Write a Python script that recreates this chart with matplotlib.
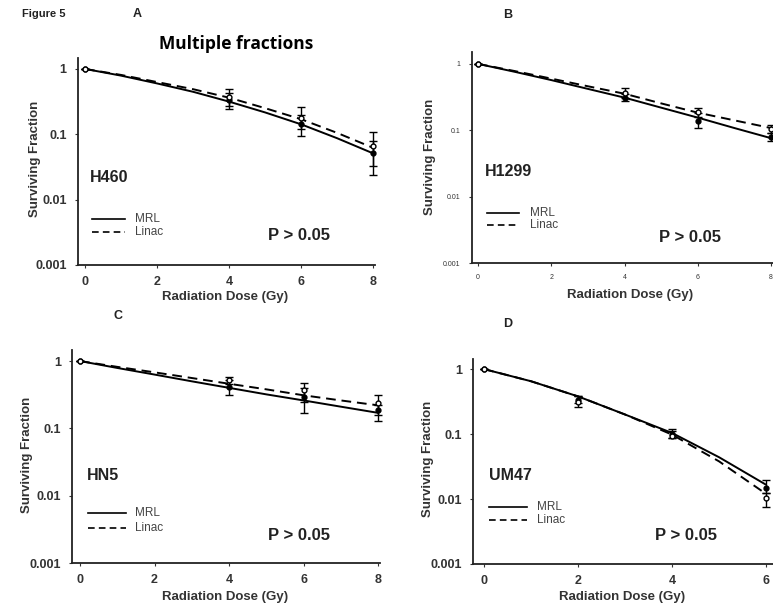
import matplotlib
matplotlib.use('Agg')
import matplotlib.pyplot as plt
import numpy as np

W, H = 773, 610

# measured points (dose in Gy, surviving fraction, lower / upper error bound)
doses_8 = [0, 4, 6, 8]
doses_6 = [0, 2, 4, 6]

h460_mrl = [1.0, 0.33, 0.145, 0.052]
h460_mrl_lo = [1.0, 0.24, 0.095, 0.024]
h460_mrl_hi = [1.0, 0.43, 0.20, 0.08]
h460_linac = [1.0, 0.37, 0.18, 0.066]
h460_linac_lo = [1.0, 0.27, 0.12, 0.033]
h460_linac_hi = [1.0, 0.50, 0.26, 0.11]

h1299_mrl = [1.0, 0.31, 0.14, 0.078]
h1299_mrl_lo = [1.0, 0.28, 0.11, 0.068]
h1299_mrl_hi = [1.0, 0.35, 0.18, 0.09]
h1299_linac = [1.0, 0.36, 0.19, 0.105]
h1299_linac_lo = [1.0, 0.31, 0.16, 0.09]
h1299_linac_hi = [1.0, 0.44, 0.22, 0.12]

hn5_mrl = [1.0, 0.41, 0.29, 0.185]
hn5_mrl_lo = [1.0, 0.31, 0.17, 0.13]
hn5_mrl_hi = [1.0, 0.52, 0.40, 0.22]
hn5_linac = [1.0, 0.52, 0.37, 0.236]
hn5_linac_lo = [1.0, 0.46, 0.245, 0.156]
hn5_linac_hi = [1.0, 0.58, 0.47, 0.31]

um47_mrl = [1.0, 0.34, 0.10, 0.015]
um47_mrl_lo = [1.0, 0.30, 0.086, 0.0123]
um47_mrl_hi = [1.0, 0.38, 0.12, 0.0197]
um47_linac = [1.0, 0.31, 0.095, 0.0104]
um47_linac_lo = [1.0, 0.26, 0.086, 0.0075]
um47_linac_hi = [1.0, 0.38, 0.11, 0.0123]

# fitted curves at each Gy
fit_x8 = [0, 1, 2, 3, 4, 5, 6, 7, 8]
fit_x6 = [0, 1, 2, 3, 4, 5, 6]
h460_mrl_fit = [1, 0.79, 0.60, 0.447, 0.316, 0.216, 0.142, 0.087, 0.051]
h460_linac_fit = [1, 0.81, 0.63, 0.49, 0.363, 0.251, 0.17, 0.105, 0.062]
h1299_mrl_fit = [1, 0.76, 0.57, 0.42, 0.31, 0.219, 0.155, 0.108, 0.076]
h1299_linac_fit = [1, 0.78, 0.60, 0.46, 0.355, 0.254, 0.184, 0.141, 0.108]
hn5_mrl_fit = [1, 0.79, 0.63, 0.50, 0.40, 0.32, 0.26, 0.21, 0.17]
hn5_linac_fit = [1, 0.82, 0.68, 0.56, 0.46, 0.38, 0.31, 0.26, 0.22]
um47_mrl_fit = [1, 0.65, 0.38, 0.20, 0.104, 0.044, 0.0166]
um47_linac_fit = [1, 0.65, 0.38, 0.20, 0.098, 0.038, 0.012]

BF = 'Liberation Sans'


def fx(px):
    return px / W


def fy(py):
    return 1 - py / H


def add_text(fig, px, py, s, **kw):
    fig.text(fx(px), fy(py), s, **kw)


def panel(fig, rect_px, xlim, ytop, xticks, fx_, mrl, mrl_lo, mrl_hi, linac, linac_lo, linac_hi,
          fit_x, mrl_fit, linac_fit, tick_size=9, tick_bold=True):
    left, top, right, bottom = rect_px
    ax = fig.add_axes([fx(left), fy(bottom), (right - left) / W, (bottom - top) / H])
    ax.set_yscale('log')
    ax.set_xlim(*xlim)
    ax.set_ylim(0.001, ytop)
    ax.plot(fit_x, mrl_fit, color='black', lw=1.4, solid_capstyle='butt')
    ax.plot(fit_x, linac_fit, color='black', lw=1.4, dashes=(5, 3))
    m = np.array(mrl)
    l = np.array(linac)
    ax.errorbar(fx_, m, yerr=[m - np.array(mrl_lo), np.array(mrl_hi) - m], fmt='o', color='black',
                ms=3.5, mfc='black', mec='black', capsize=2.6, elinewidth=1, capthick=1, clip_on=False)
    ax.errorbar(fx_, l, yerr=[l - np.array(linac_lo), np.array(linac_hi) - l], fmt='o', color='black',
                ms=3.5, mfc='white', mec='black', mew=1, capsize=2.6, elinewidth=1, capthick=1, clip_on=False)
    for s in ['top', 'right']:
        ax.spines[s].set_visible(False)
    for s in ['left', 'bottom']:
        ax.spines[s].set_linewidth(1.3)
        ax.spines[s].set_color('#222222')
    ax.set_xticks(xticks)
    ax.set_xticklabels([str(t) for t in xticks])
    ax.set_yticks([0.001, 0.01, 0.1, 1])
    ax.set_yticklabels(['0.001', '0.01', '0.1', '1'])
    ax.minorticks_off()
    ax.tick_params(length=2, width=0.8, pad=6, labelsize=tick_size, colors='#333333')
    for lab in ax.get_xticklabels() + ax.get_yticklabels():
        lab.set_fontfamily(BF)
        lab.set_fontweight('bold' if tick_bold else 'normal')
    return ax


fig = plt.figure(figsize=(W / 100, H / 100), dpi=100)

# A
panel(fig, (77.8, 58, 375, 265), (-0.2, 8.05), 1.47, [0, 2, 4, 6, 8], doses_8,
      h460_mrl, h460_mrl_lo, h460_mrl_hi, h460_linac, h460_linac_lo, h460_linac_hi,
      fit_x8, h460_mrl_fit, h460_linac_fit)
# B
panel(fig, (471.8, 52, 782, 263), (-0.17, 8.3), 1.51, [0, 2, 4, 6, 8], doses_8,
      h1299_mrl, h1299_mrl_lo, h1299_mrl_hi, h1299_linac, h1299_linac_lo, h1299_linac_hi,
      fit_x8, h1299_mrl_fit, h1299_linac_fit, tick_size=5, tick_bold=False)
# C
panel(fig, (72.2, 350, 380, 563), (-0.21, 8.05), 1.46, [0, 2, 4, 6, 8], doses_8,
      hn5_mrl, hn5_mrl_lo, hn5_mrl_hi, hn5_linac, hn5_linac_lo, hn5_linac_hi,
      fit_x8, hn5_mrl_fit, hn5_linac_fit)
# D
panel(fig, (473.2, 359, 773.1, 564), (-0.23, 6.15), 1.43, [0, 2, 4, 6], doses_6,
      um47_mrl, um47_mrl_lo, um47_mrl_hi, um47_linac, um47_linac_lo, um47_linac_hi,
      fit_x6, um47_mrl_fit, um47_linac_fit)

# headers
add_text(fig, 22, 14, 'Figure 5', fontsize=8, fontweight='bold', family=BF, va='center', color='#222222')
add_text(fig, 133, 14, 'A', fontsize=9, fontweight='bold', family=BF, va='center', color='#222222')
add_text(fig, 236, 44, 'Multiple fractions', fontsize=12.5, fontweight='bold', family='Open Sans',
         ha='center', va='center')
add_text(fig, 503, 15, 'B', fontsize=9, fontweight='bold', family=BF, va='center', color='#222222')
add_text(fig, 113, 316, 'C', fontsize=9, fontweight='bold', family=BF, va='center', color='#222222')
add_text(fig, 503, 324, 'D', fontsize=9, fontweight='bold', family=BF, va='center', color='#222222')

# per panel labels: (ylabel x, ylabel y, xlabel x, xlabel y, name, name x, name y,
#                    legend line x0, x1, y mrl, y linac, text x, p x, p y)
labels = [
    (35, 159, 225, 297, 'H460', 90, 178, 92, 125, 219, 232, 135, 268, 235),
    (430, 157, 630, 295, 'H1299', 485, 172, 487, 519, 213, 225, 530, 659, 237),
    (27, 455, 225, 597, 'HN5', 87, 475, 88, 126, 513, 528, 135, 268, 535),
    (428, 459, 622, 597, 'UM47', 489, 475, 489, 527, 507, 520, 537, 655, 535),
]
for (ylx, yly, xlx, xly, name, nx, ny, lx0, lx1, ly1, ly2, ltx, ppx, ppy) in labels:
    add_text(fig, ylx, yly, 'Surviving Fraction', fontsize=9.5, fontweight='bold', family=BF,
             rotation=90, ha='center', va='center', color='#333333')
    add_text(fig, xlx, xly, 'Radiation Dose (Gy)', fontsize=9.5, fontweight='bold', family=BF,
             ha='center', va='center', color='#333333')
    add_text(fig, nx, ny, name, fontsize=11.5, fontweight='bold', family=BF, va='center', color='#222222')
    fig.add_artist(plt.Line2D([fx(lx0), fx(lx1)], [fy(ly1), fy(ly1)], color='black', lw=1.2))
    fig.add_artist(plt.Line2D([fx(lx0), fx(lx1)], [fy(ly2), fy(ly2)], color='black', lw=1.2,
                              dashes=(4, 2.5)))
    add_text(fig, ltx, ly1, 'MRL', fontsize=8.5, family=BF, va='center', color='#444444')
    add_text(fig, ltx, ly2, 'Linac', fontsize=8.5, family=BF, va='center', color='#444444')
    add_text(fig, ppx, ppy, 'P > 0.05', fontsize=12, fontweight='bold', family=BF, va='center',
             color='#222222')

fig.savefig('out.png', dpi=100)
